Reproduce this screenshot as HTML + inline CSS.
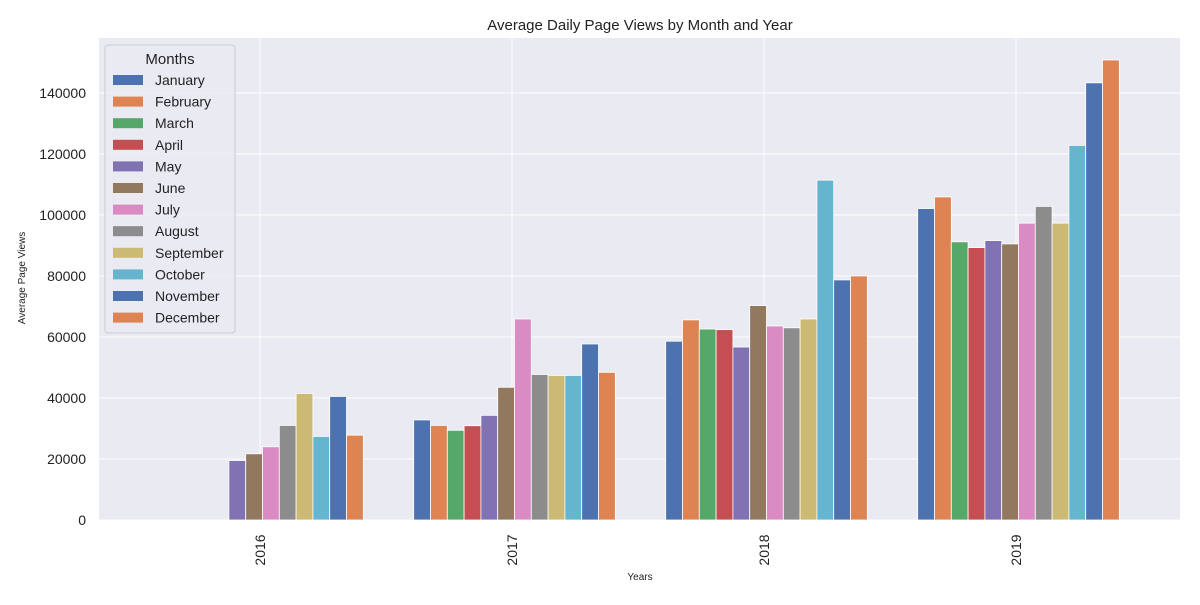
<!DOCTYPE html>
<html><head><meta charset="utf-8"><style>
body{margin:0;background:#fff;font-family:"Liberation Sans",sans-serif}
</style></head><body>
<svg id="chart" width="1200" height="600" xmlns="http://www.w3.org/2000/svg">
<rect x="0" y="0" width="1200" height="600" fill="#fff"/>
<rect x="99" y="38" width="1081" height="482" fill="#EAEAF2"/>
<g id="grid"></g><g id="bars"></g><g id="ticks"></g>
<text x="640" y="30" text-anchor="middle" font-size="15" fill="#222">Average Daily Page Views by Month and Year</text>
<text x="640" y="580" text-anchor="middle" font-size="10" fill="#222">Years</text>
<text x="25" y="278" text-anchor="middle" font-size="10" fill="#222" transform="rotate(-90 25 278)">Average Page Views</text>
<g id="legend">
<rect x="105" y="45" width="130" height="288" rx="3" fill="#EAEAF2" stroke="#ccc" fill-opacity="0.8"/>
<text x="170" y="64" text-anchor="middle" font-size="15" fill="#222">Months</text>
</g>
</svg>
<script>
const years=["2016","2017","2018","2019"];
const months=["January","February","March","April","May","June","July","August","September","October","November","December"];
const colors=["#4C72B0","#DD8452","#55A868","#C44E52","#8172B3","#937860","#DA8BC3","#8C8C8C","#CCB974","#64B5CD","#4C72B0","#DD8452"];
const v2016=[null,null,null,null,19500,21700,24000,31000,41500,27400,40500,27800];
const v2017=[32800,31000,29400,30900,34300,43500,65900,47700,47400,47400,57700,48400];
const v2018=[58600,65600,62600,62400,56700,70300,63600,63000,65900,111400,78700,80000];
const v2019=[102100,105900,91200,89300,91600,90500,97300,102800,97300,122800,143300,150800];
const yTicks=[0,20000,40000,60000,80000,100000,120000,140000];
const series=[v2016,v2017,v2018,v2019];
const NS="http://www.w3.org/2000/svg";
const y=v=>520-v*(482/158000);
const xc=i=>260+252*i;
const grp=201.6,bw=grp/12;
function el(t,a,p){const e=document.createElementNS(NS,t);for(const k in a)e.setAttribute(k,a[k]);document.getElementById(p).appendChild(e);return e;}
yTicks.forEach(t=>{
 const l=el('line',{x1:99,x2:1180,y1:y(t),y2:y(t),stroke:'#fff','stroke-width':1},'grid');
 
 
 const tx=el('text',{x:86,y:y(t)+5,'text-anchor':'end','font-size':14,fill:'#222'},'ticks');
 tx.textContent=t;
 
 
});
years.forEach((yr,i)=>{
 const l=el('line',{x1:xc(i),x2:xc(i),y1:38,y2:520,stroke:'#fff','stroke-width':1},'grid');
 
 
 const tx=el('text',{x:xc(i)+5,y:550,'text-anchor':'middle','font-size':14,fill:'#222',transform:`rotate(-90 ${xc(i)+5} 550)`},'ticks');
 tx.textContent=yr;
 
 
 series[i].forEach((v,m)=>{
  if(v==null)return;
  const r=el('rect',{x:xc(i)+2.5-grp/2+m*bw,y:y(v),width:bw,height:520-y(v),fill:colors[m],stroke:'#fff','stroke-width':0.8},'bars');
  
  
 });
});
months.forEach((m,k)=>{
 const yy=80+k*21.6;
 const r=el('rect',{x:113,y:yy-5,width:30,height:10,fill:colors[k]},'legend');
 
 
 const t=el('text',{x:155,y:yy+5,'font-size':14,fill:'#222'},'legend');
 t.textContent=m;
 
 
});
</script>
</body></html>
